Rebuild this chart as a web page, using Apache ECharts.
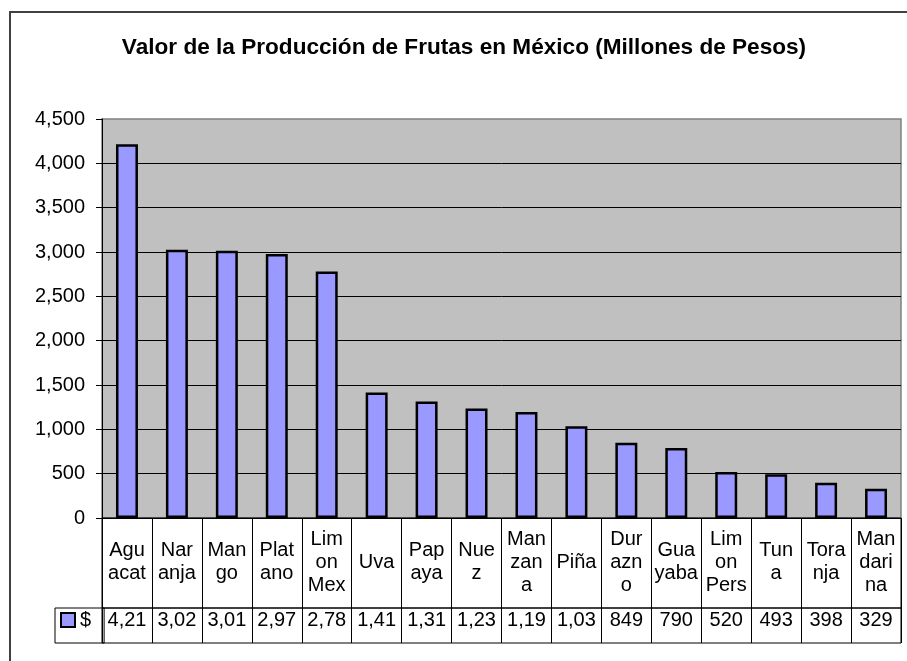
<!DOCTYPE html>
<html>
<head>
<meta charset="utf-8">
<script src="https://cdn.jsdelivr.net/npm/echarts@6/dist/echarts.min.js"></script>
<style>
  html, body { margin: 0; padding: 0; background: #fff; }
  #main { width: 907px; height: 661px; }
</style>
</head>
<body>
<div id="main"></div>
<script>
// categorias tal como aparecen en la tabla de datos (texto partido en celdas)
var categories = ['Agu\nacat', 'Nar\nanja', 'Man\ngo', 'Plat\nano', 'Lim\non\nMex', 'Uva',
  'Pap\naya', 'Nue\nz', 'Man\nzan\na', 'Piña', 'Dur\nazn\no', 'Gua\nyaba',
  'Lim\non\nPers', 'Tun\na', 'Tora\nnja', 'Man\ndari\nna'];
// valor de la produccion, millones de pesos
var values = [4215, 3025, 3015, 2978, 2780, 1415, 1315, 1235, 1195, 1035, 849, 790, 520, 493, 398, 329];
var seriesName = '$';
var yTicks = { min: 0, max: 4500, interval: 500 };

var FONT = 'Liberation Sans, Arial, sans-serif';

// la celda de la tabla solo deja ver 4 caracteres
function cellText(v) {
  return v.toLocaleString('en-US').slice(0, 4);
}

var myChart = echarts.init(document.getElementById('main'));

var option = {
  animation: false,
  backgroundColor: '#fff',
  textStyle: { fontFamily: FONT },
  title: {
    text: 'Valor de la Producción de Frutas en México (Millones de Pesos)',
    left: 464,
    top: 36,
    padding: 0,
    textAlign: 'center',
    textStyle: { fontFamily: FONT, fontSize: 22.6, fontWeight: 'bold', color: '#000' }
  },
  legend: {
    left: 55,
    top: 608,
    data: [seriesName],
    icon: 'rect',
    itemWidth: 14,
    itemHeight: 14,
    itemGap: 0,
    padding: [2, 13, 13, 5],
    borderColor: '#000',
    borderWidth: 1,
    itemStyle: { borderColor: '#000', borderWidth: 2 },
    textStyle: { fontFamily: FONT, fontSize: 20, color: '#000' }
  },
  graphic: [{
    type: 'rect',
    silent: true,
    z: -1,
    shape: { x: 10, y: 12, width: 1000, height: 800 },
    style: { fill: null, stroke: '#404040', lineWidth: 2 }
  }],
  grid: [
    { left: 102, right: 6, top: 119, height: 399, show: true, backgroundColor: '#c0c0c0',
      borderColor: '#808080', borderWidth: 1.5 },
    { left: 102, right: 6, top: 518, height: 90, show: true, backgroundColor: 'transparent',
      borderColor: '#000', borderWidth: 1 },
    { left: 102, right: 6, top: 608, height: 35, show: true, backgroundColor: 'transparent',
      borderColor: '#000', borderWidth: 1 }
  ],
  xAxis: [
    {
      type: 'category', gridIndex: 0, data: categories,
      axisLine: { lineStyle: { color: '#000', width: 1 } },
      axisTick: { show: false },
      axisLabel: { show: false }
    },
    {
      type: 'category', gridIndex: 1, data: categories, position: 'bottom',
      axisLine: { show: false },
      axisTick: { show: false },
      splitLine: { show: true, lineStyle: { color: '#000', width: 1 } },
      axisLabel: {
        inside: true, margin: 46, verticalAlign: 'middle', align: 'center',
        fontFamily: FONT, fontSize: 20, lineHeight: 23, color: '#000', interval: 0
      }
    },
    {
      type: 'category', gridIndex: 2, data: categories, position: 'bottom',
      axisLine: { show: false },
      axisTick: { show: false },
      splitLine: { show: true, lineStyle: { color: '#000', width: 1 } },
      axisLabel: {
        inside: true, margin: 23, verticalAlign: 'middle', align: 'center',
        fontFamily: FONT, fontSize: 20, color: '#000', interval: 0,
        formatter: function (v, i) { return cellText(values[i]); }
      }
    }
  ],
  yAxis: [
    {
      type: 'value', gridIndex: 0,
      min: yTicks.min, max: yTicks.max, interval: yTicks.interval,
      axisLine: { show: true, lineStyle: { color: '#000', width: 1 } },
      axisTick: { show: true, length: 6, lineStyle: { color: '#000' } },
      splitLine: { show: true, showMaxLine: false, lineStyle: { color: '#000', width: 1 } },
      axisLabel: {
        margin: 17, fontFamily: FONT, fontSize: 20, color: '#000',
        formatter: function (v) { return v.toLocaleString('en-US'); }
      }
    },
    { type: 'value', gridIndex: 1, show: false },
    { type: 'value', gridIndex: 2, show: false }
  ],
  series: [
    {
      name: seriesName,
      type: 'bar',
      xAxisIndex: 0,
      yAxisIndex: 0,
      barWidth: '44%',
      itemStyle: { color: '#9999ff', borderColor: '#000', borderWidth: 2.5 },
      data: values
    }
  ]
};

myChart.setOption(option);
</script>
</body>
</html>
